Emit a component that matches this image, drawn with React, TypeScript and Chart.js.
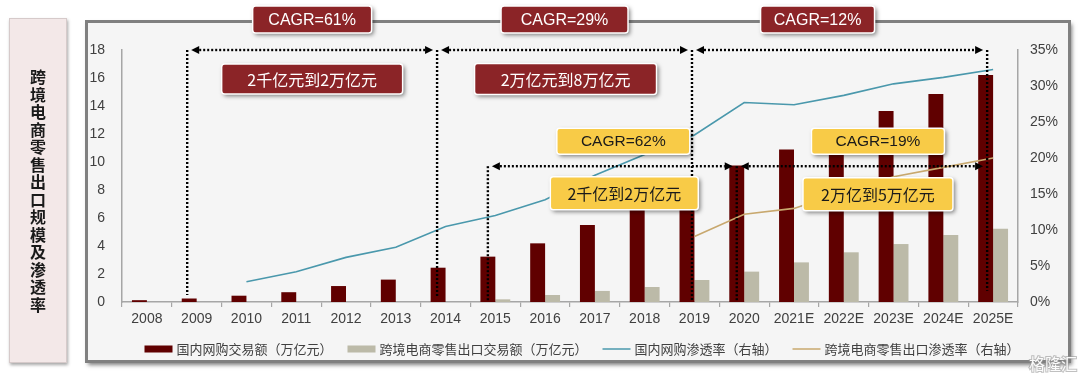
import { useEffect, useRef } from "react";
import { Chart, registerables } from "chart.js";

Chart.register(...registerables);

// ---------- data ----------
const categories = [
  "2008", "2009", "2010", "2011", "2012", "2013", "2014", "2015", "2016",
  "2017", "2018", "2019", "2020", "2021E", "2022E", "2023E", "2024E", "2025E",
];
const domesticGmv = [
  0.13, 0.25, 0.45, 0.7, 1.14, 1.6, 2.45, 3.24, 4.19, 5.5, 7.0, 8.5, 9.75,
  10.9, 12.2, 13.64, 14.86, 16.21,
];
const crossBorderGmv = [
  null, null, null, null, null, null, null, 0.19, 0.5, 0.79, 1.07, 1.57, 2.17,
  2.83, 3.55, 4.14, 4.79, 5.24,
];
const domesticPenetration = [
  null, null, 2.8, 4.2, 6.2, 7.6, 10.5, 12.0, 14.2, 17.6, 20.5, 23.2, 27.7,
  27.4, 28.7, 30.3, 31.2, 32.3,
];
const crossBorderPenetration = [
  null, null, null, null, null, null, null, null, null, null, null, 9.1, 12.2,
  13.0, 15.3, 17.4, 18.7, 20.0,
];
const seriesLabels = [
  "国内网购交易额（万亿元）",
  "跨境电商零售出口交易额（万亿元）",
  "国内网购渗透率（右轴）",
  "跨境电商零售出口渗透率（右轴）",
];
const leftAxisMax = 18;
const leftAxisStep = 2;
const rightAxisMax = 35;
const rightAxisStep = 5;
const sideTitle = "跨境电商零售出口规模及渗透率";
const watermark = "格隆汇";

// span arrows (category ranges, level on left axis)
const spanArrows = [
  { from: "2009", to: "2014", level: 18 },
  { from: "2014", to: "2019", level: 18 },
  { from: "2019", to: "2025E", level: 18 },
  { from: "2015", to: "2020", level: 9.7 },
  { from: "2020", to: "2025E", level: 9.7 },
];
const dropLines = [
  { at: "2009", top: 18, bottom: 0.5, dx: -2 },
  { at: "2014", top: 18, bottom: 0.4, dx: -1 },
  { at: "2019", top: 18, bottom: 0.0, dx: 5 },
  { at: "2025E", top: 18, bottom: 0.8, dx: 1.5 },
  { at: "2015", top: 9.7, bottom: 0.0, dx: 0 },
  { at: "2020", top: 9.7, bottom: 0.0, dx: 0 },
];
// callouts attached to spans: arrow index, vertical offset from arrow row
const callouts = [
  { text: "CAGR=61%", arrow: 0, dy: -30.5, dx: 0, w: 119, h: 27, kind: "red" },
  { text: "CAGR=29%", arrow: 1, dy: -30.5, dx: 0, w: 127, h: 27, kind: "red" },
  { text: "CAGR=12%", arrow: 2, dy: -30.5, dx: -22, w: 114, h: 27, kind: "red" },
  { text: "2千亿元到2万亿元", arrow: 0, dy: 29, dx: 0, w: 181, h: 30, kind: "red" },
  { text: "2万亿元到8万亿元", arrow: 1, dy: 29, dx: 1, w: 182, h: 31, kind: "red" },
  { text: "CAGR=62%", arrow: 3, dy: -25, dx: 11, w: 133, h: 26, kind: "yellow" },
  { text: "2千亿到2万亿元", arrow: 3, dy: 27, dx: 12, w: 148, h: 33, kind: "yellow" },
  { text: "CAGR=19%", arrow: 4, dy: -25, dx: 16, w: 133, h: 26, kind: "yellow" },
  { text: "2万亿到5万亿元", arrow: 4, dy: 28, dx: 16, w: 150, h: 33, kind: "yellow" },
];

// ---------- styles ----------
const FONT_NUM = '"Liberation Sans", Arial, sans-serif';
const FONT_CJK = '"Noto Sans CJK SC", "Liberation Sans", sans-serif';
const COLORS = {
  domestic: "#600000",
  cross: "#BCBAA8",
  domLine: "#4A98AC",
  crossLine: "#C8A86E",
  red: "#8B2427",
  yellow: "#F8CB47",
  text: "#404040",
  axis: "#A6A6A6",
};

const framePlugin = {
  id: "frame",
  beforeDraw(chart: any) {
    const ctx = chart.ctx as CanvasRenderingContext2D;
    ctx.save();
    ctx.fillStyle = "#ffffff";
    ctx.fillRect(0, 0, chart.width, chart.height);
    // side box
    ctx.shadowColor = "rgba(0,0,0,0.35)";
    ctx.shadowBlur = 3;
    ctx.shadowOffsetX = 1;
    ctx.shadowOffsetY = 2;
    ctx.fillStyle = "#F3E8E8";
    ctx.fillRect(9, 18, 58, 345);
    ctx.shadowColor = "transparent";
    ctx.strokeStyle = "#D6CACA";
    ctx.lineWidth = 1;
    ctx.strokeRect(9.5, 18.5, 57, 344);
    ctx.fillStyle = "#1a1a1a";
    ctx.font = "bold 16px " + FONT_CJK;
    ctx.textAlign = "center";
    ctx.textBaseline = "middle";
    Array.from(sideTitle).forEach((ch, i) => ctx.fillText(ch, 38, 77 + i * 17.5));
    // main panel
    ctx.shadowColor = "rgba(0,0,0,0.5)";
    ctx.shadowBlur = 4;
    ctx.shadowOffsetX = 2;
    ctx.shadowOffsetY = 3;
    ctx.fillStyle = "#F5F5F5";
    ctx.fillRect(86, 21, 984, 341);
    ctx.shadowColor = "transparent";
    ctx.strokeStyle = "#808080";
    ctx.lineWidth = 3;
    ctx.strokeRect(86.5, 21.5, 983, 340);
    ctx.restore();
  },
};

function drawBox(ctx: CanvasRenderingContext2D, cx: number, cy: number, w: number, h: number, kind: string, text: string) {
  const x = cx - w / 2;
  const y = cy - h / 2;
  ctx.save();
  ctx.shadowColor = "rgba(0,0,0,0.5)";
  ctx.shadowBlur = 4;
  ctx.shadowOffsetX = 2;
  ctx.shadowOffsetY = 2;
  ctx.beginPath();
  (ctx as any).roundRect(x, y, w, h, 3);
  ctx.fillStyle = kind === "red" ? COLORS.red : COLORS.yellow;
  ctx.fill();
  ctx.shadowColor = "transparent";
  ctx.lineWidth = 1.5;
  ctx.strokeStyle = "#ffffff";
  ctx.stroke();
  ctx.fillStyle = kind === "red" ? "#ffffff" : "#1a1a1a";
  const isCagr = text.startsWith("CAGR");
  ctx.font = (isCagr ? (kind === "red" ? "16px " : "15.5px ") : "16px ") + (isCagr ? FONT_NUM : FONT_CJK);
  ctx.textAlign = "center";
  ctx.textBaseline = "middle";
  ctx.fillText(text, cx, cy + 1);
  ctx.restore();
}

const annotationPlugin = {
  id: "annotations",
  afterDatasetsDraw(chart: any) {
    const ctx = chart.ctx as CanvasRenderingContext2D;
    const yScale = chart.scales.y;
    const bars = chart.getDatasetMeta(0).data;
    const barX = (cat: string) => bars[categories.indexOf(cat)].x;
    const dropX = (cat: string) => {
      const d = dropLines.find((l) => l.at === cat);
      return barX(cat) + (d ? d.dx : 0);
    };
    ctx.save();
    ctx.strokeStyle = "#000";
    ctx.fillStyle = "#000";
    ctx.lineWidth = 2.4;
    ctx.setLineDash([2, 2]);
    dropLines.forEach((d) => {
      const x = barX(d.at) + d.dx;
      ctx.beginPath();
      ctx.moveTo(x, yScale.getPixelForValue(d.top));
      ctx.lineTo(x, yScale.getPixelForValue(d.bottom));
      ctx.stroke();
    });
    const gap = 4;
    const head = 8;
    spanArrows.forEach((a) => {
      const x1 = dropX(a.from) + gap;
      const x2 = dropX(a.to) - gap;
      const y = yScale.getPixelForValue(a.level);
      ctx.setLineDash([2, 2]);
      ctx.beginPath();
      ctx.moveTo(x1 + head, y);
      ctx.lineTo(x2 - head, y);
      ctx.stroke();
      ctx.setLineDash([]);
      ctx.beginPath();
      ctx.moveTo(x1, y);
      ctx.lineTo(x1 + head, y - 4);
      ctx.lineTo(x1 + head, y + 4);
      ctx.closePath();
      ctx.fill();
      ctx.beginPath();
      ctx.moveTo(x2, y);
      ctx.lineTo(x2 - head, y - 4);
      ctx.lineTo(x2 - head, y + 4);
      ctx.closePath();
      ctx.fill();
    });
    ctx.restore();
    callouts.forEach((c) => {
      const a = spanArrows[c.arrow];
      const cx = (dropX(a.from) + dropX(a.to)) / 2 + c.dx;
      const cy = yScale.getPixelForValue(a.level) + c.dy;
      drawBox(ctx, cx, cy, c.w, c.h, c.kind, c.text);
    });
  },
};

const legendPlugin = {
  id: "customLegend",
  afterDraw(chart: any) {
    const ctx = chart.ctx as CanvasRenderingContext2D;
    const ds = chart.data.datasets;
    ctx.save();
    ctx.font = "13px " + FONT_CJK;
    ctx.textBaseline = "middle";
    const sym = 28;
    const gapIn = 4;
    const gapOut = 15;
    const widths = ds.map((d: any) => sym + gapIn + ctx.measureText(d.label).width);
    const total = widths.reduce((s: number, w: number) => s + w, 0) + gapOut * (ds.length - 1);
    let x = 582 - total / 2;
    const y = 349;
    ds.forEach((d: any, i: number) => {
      if (d.type === "line") {
        ctx.strokeStyle = d.borderColor;
        ctx.lineWidth = 1.5;
        ctx.beginPath();
        ctx.moveTo(x, y);
        ctx.lineTo(x + sym, y);
        ctx.stroke();
      } else {
        ctx.fillStyle = d.backgroundColor;
        ctx.fillRect(x, y - 3.5, sym, 7);
      }
      ctx.fillStyle = COLORS.text;
      ctx.textAlign = "left";
      ctx.fillText(d.label, x + sym + gapIn, y);
      x += widths[i] + gapOut;
    });
    // watermark
    ctx.font = "16px " + FONT_CJK;
    ctx.lineWidth = 2;
    ctx.strokeStyle = "rgba(150,150,150,0.6)";
    ctx.fillStyle = "rgba(255,255,255,0.95)";
    ctx.strokeText(watermark, 1029, 364);
    ctx.fillText(watermark, 1029, 364);
    ctx.restore();
  },
};

export default function App() {
  const ref = useRef<HTMLCanvasElement | null>(null);
  useEffect(() => {
    if (!ref.current) return;
    const chart = new Chart(ref.current, {
      type: "bar",
      data: {
        labels: categories,
        datasets: [
          {
            type: "bar",
            label: seriesLabels[0],
            data: domesticGmv,
            backgroundColor: COLORS.domestic,
            yAxisID: "y",
            categoryPercentage: 0.6,
            barPercentage: 1,
            order: 3,
          },
          {
            type: "bar",
            label: seriesLabels[1],
            data: crossBorderGmv as any,
            backgroundColor: COLORS.cross,
            yAxisID: "y",
            categoryPercentage: 0.6,
            barPercentage: 1,
            order: 3,
          },
          {
            type: "line",
            label: seriesLabels[2],
            data: domesticPenetration as any,
            borderColor: COLORS.domLine,
            backgroundColor: COLORS.domLine,
            borderWidth: 1.6,
            pointRadius: 0,
            tension: 0,
            yAxisID: "y1",
            order: 1,
          },
          {
            type: "line",
            label: seriesLabels[3],
            data: crossBorderPenetration as any,
            borderColor: COLORS.crossLine,
            backgroundColor: COLORS.crossLine,
            borderWidth: 1.6,
            pointRadius: 0,
            tension: 0,
            yAxisID: "y1",
            order: 1,
          },
        ] as any,
      },
      options: {
        responsive: false,
        animation: false,
        layout: { padding: { left: 0, right: 0, top: 50, bottom: 0 } },
        plugins: { legend: { display: false }, tooltip: { enabled: false } },
        scales: {
          x: {
            type: "category",
            offset: true,
            grid: {
              display: true,
              drawOnChartArea: false,
              drawTicks: true,
              tickLength: 5,
              color: COLORS.axis,
              lineWidth: 1.2,
              offset: true,
            },
            border: { display: true, color: COLORS.axis, width: 1.5 },
            ticks: {
              color: COLORS.text,
              font: { size: 14, family: FONT_NUM },
              padding: 4,
              maxRotation: 0,
              autoSkip: false,
            },
            afterFit: (s: any) => {
              s.height = 76;
            },
          },
          y: {
            position: "left",
            min: 0,
            max: leftAxisMax,
            grid: { display: false, drawTicks: false },
            border: { display: true, color: COLORS.axis, width: 1.5 },
            ticks: {
              stepSize: leftAxisStep,
              color: COLORS.text,
              font: { size: 14, family: FONT_NUM },
              padding: 17,
            },
            afterFit: (s: any) => {
              s.width = 122;
            },
          },
          y1: {
            position: "right",
            min: 0,
            max: rightAxisMax,
            grid: { display: false, drawTicks: false },
            border: { display: true, color: COLORS.axis, width: 1.5 },
            ticks: {
              stepSize: rightAxisStep,
              color: COLORS.text,
              font: { size: 14, family: FONT_NUM },
              padding: 12,
              callback: (v: any) => v + "%",
            },
            afterFit: (s: any) => {
              s.width = 62;
            },
          },
        },
      } as any,
      plugins: [framePlugin, annotationPlugin, legendPlugin],
    });
    return () => chart.destroy();
  }, []);
  return (
    <div style={{ position: "fixed", left: 0, top: 0, width: 1080, height: 378 }}>
      <canvas ref={ref} width={1080} height={378} style={{ width: 1080, height: 378, display: "block" }} />
    </div>
  );
}
